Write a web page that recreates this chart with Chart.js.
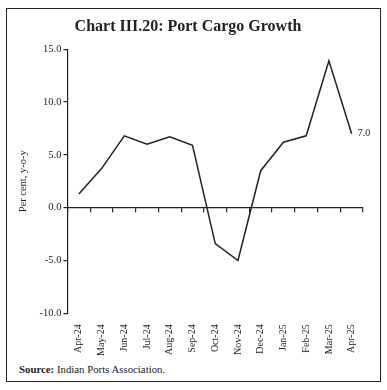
<!DOCTYPE html>
<html>
<head>
<meta charset="utf-8">
<script src="https://cdn.jsdelivr.net/npm/chart.js@4"></script>
<style>
  body { margin: 0; background: #fff; }
  #frame { position: absolute; left: 6px; top: 8px; width: 373px; height: 372px; border: 1.5px solid #222; }
  #box { position: absolute; left: 0; top: 0; width: 373px; height: 350px; }
  #src { position: absolute; left: 12px; top: 354px; font: 10.8px "Liberation Serif", serif; color: #222; }
</style>
</head>
<body>
<div id="frame">
  <div id="box"><canvas id="myChart"></canvas></div>
  <div id="src"><b>Source:</b> Indian Ports Association.</div>
</div>
<script>
const months = [ 'Apr-24', 'May-24', 'Jun-24', 'Jul-24', 'Aug-24', 'Sep-24', 'Oct-24', 'Nov-24', 'Dec-24', 'Jan-25', 'Feb-25', 'Mar-25', 'Apr-25' ];
const cargoGrowth = [ 1.3, 3.7, 6.8, 6.0, 6.7, 5.9, -3.4, -5.0, 3.5, 6.2, 6.8, 13.9, 7.0 ];
const yTicks = [ -10, -5, 0, 5, 10, 15 ];

const serif = '"Liberation Serif", "DejaVu Serif", serif';

// 最後の値だけラベルを付ける
const lastLabel = {
    id: 'lastLabel',
    afterDatasetsDraw( chart ) {
        const meta = chart.getDatasetMeta( 0 );
        const pt = meta.data[ meta.data.length - 1 ];
        const c = chart.ctx;
        c.save();
        c.font = '10px ' + serif;
        c.fillStyle = '#222';
        c.textBaseline = 'middle';
        c.fillText( cargoGrowth[ cargoGrowth.length - 1 ].toFixed( 1 ), pt.x + 6, pt.y );
        c.restore();
    }
};

const ctx = document.getElementById( 'myChart' ).getContext( '2d' );
new Chart( ctx, {
    type: 'line',
    data: {
        labels: months,
        datasets: [{
            data: cargoGrowth,
            borderColor: '#222',
            borderWidth: 1.5,
            pointRadius: 0,
            fill: false,
            tension: 0
        }]
    },
    plugins: [ lastLabel ],
    options: {
        responsive: true,
        maintainAspectRatio: false,
        animation: false,
        layout: { padding: { left: 6, right: 17, top: 0, bottom: 0 } },
        plugins: {
            legend: { display: false },
            tooltip: { enabled: false },
            title: {
                display: true,
                text: 'Chart III.20: Port Cargo Growth',
                color: '#222',
                font: { family: serif, size: 16, weight: 'bold' },
                padding: { top: 8, bottom: 13 }
            }
        },
        scales: {
            x: {
                offset: true,
                grid: { display: false },
                border: { display: false },
                ticks: {
                    color: '#222',
                    font: { family: serif, size: 10 },
                    minRotation: 90,
                    maxRotation: 90,
                    autoSkip: false,
                    padding: 3
                }
            },
            xZero: {
                type: 'category',
                axis: 'x',
                labels: months,
                position: { y: 0 },
                offset: true,
                grid: { offset: true, drawOnChartArea: false, tickLength: 4, color: '#222', lineWidth: 1.2 },
                border: { display: true, color: '#222', width: 1.2 },
                ticks: { display: false }
            },
            y: {
                min: -10,
                max: 15,
                afterBuildTicks( axis ) {
                    axis.ticks = yTicks.map( v => ( { value: v } ) );
                },
                grid: { drawOnChartArea: false, tickLength: 4, color: '#222', lineWidth: 1.2 },
                border: { display: true, color: '#222', width: 1.2 },
                ticks: {
                    color: '#222',
                    font: { family: serif, size: 10.5 },
                    padding: 2,
                    callback: v => v.toFixed( 1 )
                },
                title: {
                    display: true,
                    text: 'Per cent, y-o-y',
                    color: '#222',
                    font: { family: serif, size: 10.5 },
                    padding: { bottom: 8 }
                }
            }
        }
    }
});
</script>
</body>
</html>
